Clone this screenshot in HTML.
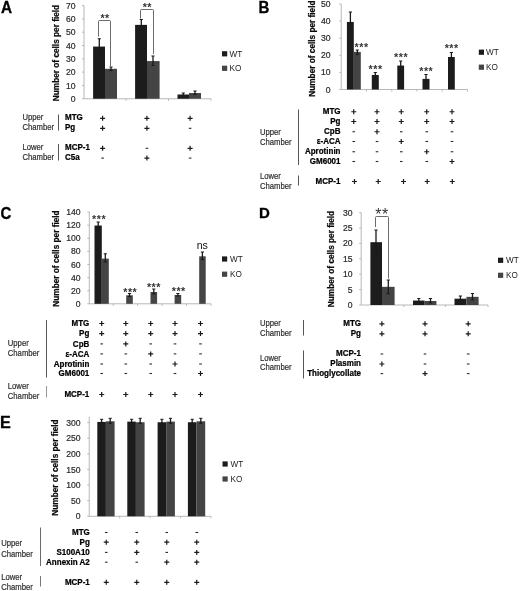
<!DOCTYPE html>
<html lang="en"><head><meta charset="utf-8"><title>Figure</title>
<style>
html,body{margin:0;padding:0;background:#fff;}
svg{display:block;font-family:"Liberation Sans", sans-serif;}
</style></head>
<body>
<svg width="520" height="591" viewBox="0 0 520 591">
<rect x="0" y="0" width="520" height="591" fill="#fff"/>
<text transform="translate(0.9,12.6) scale(0.92,1)" font-size="16.7" font-weight="bold" fill="#000" stroke="#000" stroke-width="0.3">A</text>
<line x1="84.00" y1="5.58" x2="84.00" y2="98.75" stroke="#b0b0b0" stroke-width="0.9"/>
<line x1="84.00" y1="98.75" x2="211.00" y2="98.75" stroke="#b0b0b0" stroke-width="0.9"/>
<line x1="82.00" y1="98.75" x2="84.00" y2="98.75" stroke="#b0b0b0" stroke-width="0.9"/>
<text x="75.5" y="101.846" font-size="8.6" text-anchor="end" fill="#2a2a2a" stroke="#2a2a2a" stroke-width="0.2">0</text>
<line x1="82.00" y1="85.44" x2="84.00" y2="85.44" stroke="#b0b0b0" stroke-width="0.9"/>
<text x="75.5" y="88.536" font-size="8.6" text-anchor="end" fill="#2a2a2a" stroke="#2a2a2a" stroke-width="0.2">10</text>
<line x1="82.00" y1="72.13" x2="84.00" y2="72.13" stroke="#b0b0b0" stroke-width="0.9"/>
<text x="75.5" y="75.226" font-size="8.6" text-anchor="end" fill="#2a2a2a" stroke="#2a2a2a" stroke-width="0.2">20</text>
<line x1="82.00" y1="58.82" x2="84.00" y2="58.82" stroke="#b0b0b0" stroke-width="0.9"/>
<text x="75.5" y="61.916" font-size="8.6" text-anchor="end" fill="#2a2a2a" stroke="#2a2a2a" stroke-width="0.2">30</text>
<line x1="82.00" y1="45.51" x2="84.00" y2="45.51" stroke="#b0b0b0" stroke-width="0.9"/>
<text x="75.5" y="48.606" font-size="8.6" text-anchor="end" fill="#2a2a2a" stroke="#2a2a2a" stroke-width="0.2">40</text>
<line x1="82.00" y1="32.20" x2="84.00" y2="32.20" stroke="#b0b0b0" stroke-width="0.9"/>
<text x="75.5" y="35.296" font-size="8.6" text-anchor="end" fill="#2a2a2a" stroke="#2a2a2a" stroke-width="0.2">50</text>
<line x1="82.00" y1="18.89" x2="84.00" y2="18.89" stroke="#b0b0b0" stroke-width="0.9"/>
<text x="75.5" y="21.986" font-size="8.6" text-anchor="end" fill="#2a2a2a" stroke="#2a2a2a" stroke-width="0.2">60</text>
<line x1="82.00" y1="5.58" x2="84.00" y2="5.58" stroke="#b0b0b0" stroke-width="0.9"/>
<text x="75.5" y="8.675999999999998" font-size="8.6" text-anchor="end" fill="#2a2a2a" stroke="#2a2a2a" stroke-width="0.2">70</text>
<line x1="126.00" y1="98.75" x2="126.00" y2="100.75" stroke="#b0b0b0" stroke-width="0.9"/>
<line x1="168.50" y1="98.75" x2="168.50" y2="100.75" stroke="#b0b0b0" stroke-width="0.9"/>
<line x1="211.00" y1="98.75" x2="211.00" y2="100.75" stroke="#b0b0b0" stroke-width="0.9"/>
<text transform="translate(59.2,53) rotate(-90)" font-size="8.25" text-anchor="middle" font-weight="bold" fill="#0a0a0a" stroke="#0a0a0a" stroke-width="0.22">Number of cells per field</text>
<rect x="93.10" y="46.57" width="11.90" height="52.18" fill="#1c1c1c"/>
<rect x="105.00" y="68.80" width="12.00" height="29.95" fill="#444444"/>
<rect x="135.10" y="24.88" width="11.90" height="73.87" fill="#1c1c1c"/>
<rect x="147.00" y="61.08" width="12.60" height="37.67" fill="#444444"/>
<rect x="177.50" y="94.49" width="11.50" height="4.26" fill="#1c1c1c"/>
<rect x="189.00" y="93.03" width="12.00" height="5.72" fill="#444444"/>
<line x1="99.30" y1="38.75" x2="99.30" y2="53.75" stroke="#1a1a1a" stroke-width="1.3"/>
<line x1="97.70" y1="38.75" x2="100.90" y2="38.75" stroke="#1a1a1a" stroke-width="1.0"/>
<line x1="97.70" y1="53.75" x2="100.90" y2="53.75" stroke="#1a1a1a" stroke-width="1.0"/>
<line x1="111.00" y1="67.00" x2="111.00" y2="70.50" stroke="#1a1a1a" stroke-width="1.3"/>
<line x1="109.40" y1="67.00" x2="112.60" y2="67.00" stroke="#1a1a1a" stroke-width="1.0"/>
<line x1="109.40" y1="70.50" x2="112.60" y2="70.50" stroke="#1a1a1a" stroke-width="1.0"/>
<line x1="141.30" y1="19.50" x2="141.30" y2="29.50" stroke="#1a1a1a" stroke-width="1.3"/>
<line x1="139.70" y1="19.50" x2="142.90" y2="19.50" stroke="#1a1a1a" stroke-width="1.0"/>
<line x1="139.70" y1="29.50" x2="142.90" y2="29.50" stroke="#1a1a1a" stroke-width="1.0"/>
<line x1="153.00" y1="56.00" x2="153.00" y2="65.50" stroke="#1a1a1a" stroke-width="1.3"/>
<line x1="151.40" y1="56.00" x2="154.60" y2="56.00" stroke="#1a1a1a" stroke-width="1.0"/>
<line x1="151.40" y1="65.50" x2="154.60" y2="65.50" stroke="#1a1a1a" stroke-width="1.0"/>
<line x1="183.30" y1="93.00" x2="183.30" y2="95.50" stroke="#1a1a1a" stroke-width="1.3"/>
<line x1="181.70" y1="93.00" x2="184.90" y2="93.00" stroke="#1a1a1a" stroke-width="1.0"/>
<line x1="181.70" y1="95.50" x2="184.90" y2="95.50" stroke="#1a1a1a" stroke-width="1.0"/>
<line x1="195.00" y1="91.00" x2="195.00" y2="94.50" stroke="#1a1a1a" stroke-width="1.3"/>
<line x1="193.40" y1="91.00" x2="196.60" y2="91.00" stroke="#1a1a1a" stroke-width="1.0"/>
<line x1="193.40" y1="94.50" x2="196.60" y2="94.50" stroke="#1a1a1a" stroke-width="1.0"/>
<path d="M98.5,36.5 L98.5,21.5 Q98.5,20.5 99.5,20.5 L109.5,20.5 Q110.5,20.5 110.5,21.5 L110.5,66" fill="none" stroke="#3a3a3a" stroke-width="0.75"/>
<text x="105.1" y="21.5" font-size="10.7" text-anchor="middle" font-weight="bold" fill="#333" letter-spacing="0.5">**</text>
<path d="M140.5,18.5 L140.5,10.5 Q140.5,9.5 141.5,9.5 L152.5,9.5 Q153.5,9.5 153.5,10.5 L153.5,54" fill="none" stroke="#3a3a3a" stroke-width="0.75"/>
<text x="147.3" y="11" font-size="10.7" text-anchor="middle" font-weight="bold" fill="#333" letter-spacing="0.5">**</text>
<rect x="222.00" y="51.20" width="5.20" height="5.20" fill="#1c1c1c"/>
<text x="229.5" y="56.699999999999996" font-size="8.2" text-anchor="start" fill="#222">WT</text>
<rect x="222.00" y="65.70" width="5.20" height="5.20" fill="#444444"/>
<text x="229.5" y="71.2" font-size="8.2" text-anchor="start" fill="#222">KO</text>
<text transform="translate(22.5,120.2) scale(0.905,1)" font-size="8.5" text-anchor="start" fill="#2e2e2e" stroke="#2e2e2e" stroke-width="0.2">Upper</text>
<text transform="translate(22.5,130.2) scale(0.905,1)" font-size="8.5" text-anchor="start" fill="#2e2e2e" stroke="#2e2e2e" stroke-width="0.2">Chamber</text>
<line x1="58.50" y1="114.50" x2="58.50" y2="130.50" stroke="#555" stroke-width="1"/>
<text transform="translate(65,120.2) scale(0.88,1)" font-size="9.1" text-anchor="start" font-weight="bold" fill="#000" stroke="#000" stroke-width="0.25">MTG</text>
<text transform="translate(65,130.2) scale(0.88,1)" font-size="9.1" text-anchor="start" font-weight="bold" fill="#000" stroke="#000" stroke-width="0.25">Pg</text>
<text transform="translate(22.5,149.7) scale(0.905,1)" font-size="8.5" text-anchor="start" fill="#2e2e2e" stroke="#2e2e2e" stroke-width="0.2">Lower</text>
<text transform="translate(22.5,159.7) scale(0.905,1)" font-size="8.5" text-anchor="start" fill="#2e2e2e" stroke="#2e2e2e" stroke-width="0.2">Chamber</text>
<line x1="58.50" y1="144.00" x2="58.50" y2="160.50" stroke="#555" stroke-width="1"/>
<text transform="translate(65,149.7) scale(0.88,1)" font-size="9.1" text-anchor="start" font-weight="bold" fill="#000" stroke="#000" stroke-width="0.25">MCP-1</text>
<text transform="translate(65,159.7) scale(0.88,1)" font-size="9.1" text-anchor="start" font-weight="bold" fill="#000" stroke="#000" stroke-width="0.25">C5a</text>
<path d="M100.10,118.30h5M102.60,115.80v5" stroke="#1a1a1a" stroke-width="1.2" fill="none"/>
<path d="M144.40,118.30h5M146.90,115.80v5" stroke="#1a1a1a" stroke-width="1.2" fill="none"/>
<path d="M187.60,118.30h5M190.10,115.80v5" stroke="#1a1a1a" stroke-width="1.2" fill="none"/>
<path d="M100.10,128.30h5M102.60,125.80v5" stroke="#1a1a1a" stroke-width="1.2" fill="none"/>
<path d="M144.40,128.30h5M146.90,125.80v5" stroke="#1a1a1a" stroke-width="1.2" fill="none"/>
<path d="M188.80,128.30h2.6" stroke="#2a2a2a" stroke-width="1.1" fill="none"/>
<path d="M100.10,148.30h5M102.60,145.80v5" stroke="#1a1a1a" stroke-width="1.2" fill="none"/>
<path d="M145.60,148.30h2.6" stroke="#2a2a2a" stroke-width="1.1" fill="none"/>
<path d="M187.60,148.30h5M190.10,145.80v5" stroke="#1a1a1a" stroke-width="1.2" fill="none"/>
<path d="M101.30,158.10h2.6" stroke="#2a2a2a" stroke-width="1.1" fill="none"/>
<path d="M144.40,158.10h5M146.90,155.60v5" stroke="#1a1a1a" stroke-width="1.2" fill="none"/>
<path d="M188.80,158.10h2.6" stroke="#2a2a2a" stroke-width="1.1" fill="none"/>
<text transform="translate(258.4,13.1) scale(0.945,1)" font-size="15.9" font-weight="bold" fill="#000" stroke="#000" stroke-width="0.3">B</text>
<line x1="341.25" y1="4.00" x2="341.25" y2="89.50" stroke="#b0b0b0" stroke-width="0.9"/>
<line x1="341.25" y1="89.50" x2="467.50" y2="89.50" stroke="#b0b0b0" stroke-width="0.9"/>
<line x1="339.25" y1="89.50" x2="341.25" y2="89.50" stroke="#b0b0b0" stroke-width="0.9"/>
<text x="330.5" y="92.596" font-size="8.6" text-anchor="end" fill="#2a2a2a" stroke="#2a2a2a" stroke-width="0.2">0</text>
<line x1="339.25" y1="72.40" x2="341.25" y2="72.40" stroke="#b0b0b0" stroke-width="0.9"/>
<text x="330.5" y="75.49600000000001" font-size="8.6" text-anchor="end" fill="#2a2a2a" stroke="#2a2a2a" stroke-width="0.2">10</text>
<line x1="339.25" y1="55.30" x2="341.25" y2="55.30" stroke="#b0b0b0" stroke-width="0.9"/>
<text x="330.5" y="58.395999999999994" font-size="8.6" text-anchor="end" fill="#2a2a2a" stroke="#2a2a2a" stroke-width="0.2">20</text>
<line x1="339.25" y1="38.20" x2="341.25" y2="38.20" stroke="#b0b0b0" stroke-width="0.9"/>
<text x="330.5" y="41.296" font-size="8.6" text-anchor="end" fill="#2a2a2a" stroke="#2a2a2a" stroke-width="0.2">30</text>
<line x1="339.25" y1="21.10" x2="341.25" y2="21.10" stroke="#b0b0b0" stroke-width="0.9"/>
<text x="330.5" y="24.195999999999994" font-size="8.6" text-anchor="end" fill="#2a2a2a" stroke="#2a2a2a" stroke-width="0.2">40</text>
<line x1="339.25" y1="4.00" x2="341.25" y2="4.00" stroke="#b0b0b0" stroke-width="0.9"/>
<text x="330.5" y="7.096" font-size="8.6" text-anchor="end" fill="#2a2a2a" stroke="#2a2a2a" stroke-width="0.2">50</text>
<line x1="366.50" y1="89.50" x2="366.50" y2="91.50" stroke="#b0b0b0" stroke-width="0.9"/>
<line x1="391.75" y1="89.50" x2="391.75" y2="91.50" stroke="#b0b0b0" stroke-width="0.9"/>
<line x1="417.00" y1="89.50" x2="417.00" y2="91.50" stroke="#b0b0b0" stroke-width="0.9"/>
<line x1="442.25" y1="89.50" x2="442.25" y2="91.50" stroke="#b0b0b0" stroke-width="0.9"/>
<line x1="467.50" y1="89.50" x2="467.50" y2="91.50" stroke="#b0b0b0" stroke-width="0.9"/>
<text transform="translate(315,48.6) rotate(-90)" font-size="8.25" text-anchor="middle" font-weight="bold" fill="#0a0a0a" stroke="#0a0a0a" stroke-width="0.22">Number of cells per field</text>
<rect x="346.90" y="21.95" width="6.90" height="67.55" fill="#1c1c1c"/>
<rect x="353.80" y="51.88" width="7.00" height="37.62" fill="#444444"/>
<rect x="371.80" y="74.97" width="7.00" height="14.54" fill="#1c1c1c"/>
<rect x="397.30" y="65.56" width="6.80" height="23.94" fill="#1c1c1c"/>
<rect x="422.50" y="78.90" width="7.00" height="10.60" fill="#1c1c1c"/>
<rect x="448.00" y="57.01" width="6.80" height="32.49" fill="#1c1c1c"/>
<line x1="350.40" y1="12.00" x2="350.40" y2="31.00" stroke="#1a1a1a" stroke-width="1.3"/>
<line x1="348.80" y1="12.00" x2="352.00" y2="12.00" stroke="#1a1a1a" stroke-width="1.0"/>
<line x1="348.80" y1="31.00" x2="352.00" y2="31.00" stroke="#1a1a1a" stroke-width="1.0"/>
<line x1="357.30" y1="50.00" x2="357.30" y2="54.50" stroke="#1a1a1a" stroke-width="1.3"/>
<line x1="355.70" y1="50.00" x2="358.90" y2="50.00" stroke="#1a1a1a" stroke-width="1.0"/>
<line x1="355.70" y1="54.50" x2="358.90" y2="54.50" stroke="#1a1a1a" stroke-width="1.0"/>
<line x1="375.30" y1="72.50" x2="375.30" y2="77.50" stroke="#1a1a1a" stroke-width="1.3"/>
<line x1="373.70" y1="72.50" x2="376.90" y2="72.50" stroke="#1a1a1a" stroke-width="1.0"/>
<line x1="373.70" y1="77.50" x2="376.90" y2="77.50" stroke="#1a1a1a" stroke-width="1.0"/>
<line x1="400.70" y1="61.00" x2="400.70" y2="69.50" stroke="#1a1a1a" stroke-width="1.3"/>
<line x1="399.10" y1="61.00" x2="402.30" y2="61.00" stroke="#1a1a1a" stroke-width="1.0"/>
<line x1="399.10" y1="69.50" x2="402.30" y2="69.50" stroke="#1a1a1a" stroke-width="1.0"/>
<line x1="426.00" y1="74.50" x2="426.00" y2="82.00" stroke="#1a1a1a" stroke-width="1.3"/>
<line x1="424.40" y1="74.50" x2="427.60" y2="74.50" stroke="#1a1a1a" stroke-width="1.0"/>
<line x1="424.40" y1="82.00" x2="427.60" y2="82.00" stroke="#1a1a1a" stroke-width="1.0"/>
<line x1="451.40" y1="52.50" x2="451.40" y2="60.50" stroke="#1a1a1a" stroke-width="1.3"/>
<line x1="449.80" y1="52.50" x2="453.00" y2="52.50" stroke="#1a1a1a" stroke-width="1.0"/>
<line x1="449.80" y1="60.50" x2="453.00" y2="60.50" stroke="#1a1a1a" stroke-width="1.0"/>
<text x="361.6" y="50.5" font-size="10.7" text-anchor="middle" font-weight="bold" fill="#333" letter-spacing="0.5">***</text>
<text x="375.6" y="73" font-size="10.7" text-anchor="middle" font-weight="bold" fill="#333" letter-spacing="0.5">***</text>
<text x="401.1" y="61" font-size="10.7" text-anchor="middle" font-weight="bold" fill="#333" letter-spacing="0.5">***</text>
<text x="426.3" y="75" font-size="10.7" text-anchor="middle" font-weight="bold" fill="#333" letter-spacing="0.5">***</text>
<text x="451.7" y="52" font-size="10.7" text-anchor="middle" font-weight="bold" fill="#333" letter-spacing="0.5">***</text>
<rect x="478.80" y="49.60" width="5.20" height="5.20" fill="#1c1c1c"/>
<text x="486" y="55.1" font-size="8.2" text-anchor="start" fill="#222">WT</text>
<rect x="478.80" y="64.60" width="5.20" height="5.20" fill="#444444"/>
<text x="486" y="70.10000000000001" font-size="8.2" text-anchor="start" fill="#222">KO</text>
<text transform="translate(340.5,114.35) scale(0.88,1)" font-size="9.1" text-anchor="end" font-weight="bold" fill="#000" stroke="#000" stroke-width="0.25">MTG</text>
<path d="M351.25,111.75h5M353.75,109.25v5" stroke="#1a1a1a" stroke-width="1.2" fill="none"/>
<path d="M374.50,111.75h5M377.00,109.25v5" stroke="#1a1a1a" stroke-width="1.2" fill="none"/>
<path d="M398.75,111.75h5M401.25,109.25v5" stroke="#1a1a1a" stroke-width="1.2" fill="none"/>
<path d="M424.25,111.75h5M426.75,109.25v5" stroke="#1a1a1a" stroke-width="1.2" fill="none"/>
<path d="M449.50,111.75h5M452.00,109.25v5" stroke="#1a1a1a" stroke-width="1.2" fill="none"/>
<text transform="translate(340.5,124.1) scale(0.88,1)" font-size="9.1" text-anchor="end" font-weight="bold" fill="#000" stroke="#000" stroke-width="0.25">Pg</text>
<path d="M351.25,121.50h5M353.75,119.00v5" stroke="#1a1a1a" stroke-width="1.2" fill="none"/>
<path d="M374.50,121.50h5M377.00,119.00v5" stroke="#1a1a1a" stroke-width="1.2" fill="none"/>
<path d="M398.75,121.50h5M401.25,119.00v5" stroke="#1a1a1a" stroke-width="1.2" fill="none"/>
<path d="M424.25,121.50h5M426.75,119.00v5" stroke="#1a1a1a" stroke-width="1.2" fill="none"/>
<path d="M449.50,121.50h5M452.00,119.00v5" stroke="#1a1a1a" stroke-width="1.2" fill="none"/>
<text transform="translate(340.5,134.35) scale(0.88,1)" font-size="9.1" text-anchor="end" font-weight="bold" fill="#000" stroke="#000" stroke-width="0.25">CpB</text>
<path d="M352.45,131.75h2.6" stroke="#2a2a2a" stroke-width="1.1" fill="none"/>
<path d="M374.50,131.75h5M377.00,129.25v5" stroke="#1a1a1a" stroke-width="1.2" fill="none"/>
<path d="M399.95,131.75h2.6" stroke="#2a2a2a" stroke-width="1.1" fill="none"/>
<path d="M425.45,131.75h2.6" stroke="#2a2a2a" stroke-width="1.1" fill="none"/>
<path d="M450.70,131.75h2.6" stroke="#2a2a2a" stroke-width="1.1" fill="none"/>
<text transform="translate(340.5,144.1) scale(0.88,1)" font-size="9.1" text-anchor="end" font-weight="bold" fill="#000" stroke="#000" stroke-width="0.25">ε-ACA</text>
<path d="M352.45,141.50h2.6" stroke="#2a2a2a" stroke-width="1.1" fill="none"/>
<path d="M375.70,141.50h2.6" stroke="#2a2a2a" stroke-width="1.1" fill="none"/>
<path d="M398.75,141.50h5M401.25,139.00v5" stroke="#1a1a1a" stroke-width="1.2" fill="none"/>
<path d="M425.45,141.50h2.6" stroke="#2a2a2a" stroke-width="1.1" fill="none"/>
<path d="M450.70,141.50h2.6" stroke="#2a2a2a" stroke-width="1.1" fill="none"/>
<text transform="translate(340.5,154.35) scale(0.88,1)" font-size="9.1" text-anchor="end" font-weight="bold" fill="#000" stroke="#000" stroke-width="0.25">Aprotinin</text>
<path d="M352.45,151.75h2.6" stroke="#2a2a2a" stroke-width="1.1" fill="none"/>
<path d="M375.70,151.75h2.6" stroke="#2a2a2a" stroke-width="1.1" fill="none"/>
<path d="M399.95,151.75h2.6" stroke="#2a2a2a" stroke-width="1.1" fill="none"/>
<path d="M424.25,151.75h5M426.75,149.25v5" stroke="#1a1a1a" stroke-width="1.2" fill="none"/>
<path d="M450.70,151.75h2.6" stroke="#2a2a2a" stroke-width="1.1" fill="none"/>
<text transform="translate(340.5,164.1) scale(0.88,1)" font-size="9.1" text-anchor="end" font-weight="bold" fill="#000" stroke="#000" stroke-width="0.25">GM6001</text>
<path d="M352.45,161.50h2.6" stroke="#2a2a2a" stroke-width="1.1" fill="none"/>
<path d="M375.70,161.50h2.6" stroke="#2a2a2a" stroke-width="1.1" fill="none"/>
<path d="M399.95,161.50h2.6" stroke="#2a2a2a" stroke-width="1.1" fill="none"/>
<path d="M425.45,161.50h2.6" stroke="#2a2a2a" stroke-width="1.1" fill="none"/>
<path d="M449.50,161.50h5M452.00,159.00v5" stroke="#1a1a1a" stroke-width="1.2" fill="none"/>
<line x1="298.50" y1="109.50" x2="298.50" y2="165.00" stroke="#555" stroke-width="1"/>
<text transform="translate(260,135.2) scale(0.905,1)" font-size="8.5" text-anchor="start" fill="#2e2e2e" stroke="#2e2e2e" stroke-width="0.2">Upper</text>
<text transform="translate(260,145.2) scale(0.905,1)" font-size="8.5" text-anchor="start" fill="#2e2e2e" stroke="#2e2e2e" stroke-width="0.2">Chamber</text>
<text transform="translate(260,178.9) scale(0.905,1)" font-size="8.5" text-anchor="start" fill="#2e2e2e" stroke="#2e2e2e" stroke-width="0.2">Lower</text>
<text transform="translate(260,188.9) scale(0.905,1)" font-size="8.5" text-anchor="start" fill="#2e2e2e" stroke="#2e2e2e" stroke-width="0.2">Chamber</text>
<line x1="298.50" y1="175.50" x2="298.50" y2="185.50" stroke="#555" stroke-width="1"/>
<text transform="translate(340.5,184) scale(0.88,1)" font-size="9.1" text-anchor="end" font-weight="bold" fill="#000" stroke="#000" stroke-width="0.25">MCP-1</text>
<path d="M352.00,181.50h5M354.50,179.00v5" stroke="#1a1a1a" stroke-width="1.2" fill="none"/>
<path d="M375.70,181.50h5M378.20,179.00v5" stroke="#1a1a1a" stroke-width="1.2" fill="none"/>
<path d="M401.00,181.50h5M403.50,179.00v5" stroke="#1a1a1a" stroke-width="1.2" fill="none"/>
<path d="M424.70,181.50h5M427.20,179.00v5" stroke="#1a1a1a" stroke-width="1.2" fill="none"/>
<path d="M449.80,181.50h5M452.30,179.00v5" stroke="#1a1a1a" stroke-width="1.2" fill="none"/>
<text transform="translate(0.5,219.0) scale(0.9,1)" font-size="16.7" font-weight="bold" fill="#000" stroke="#000" stroke-width="0.3">C</text>
<line x1="89.30" y1="212.10" x2="89.30" y2="303.80" stroke="#b0b0b0" stroke-width="0.9"/>
<line x1="89.30" y1="303.80" x2="211.00" y2="303.80" stroke="#b0b0b0" stroke-width="0.9"/>
<line x1="87.30" y1="303.80" x2="89.30" y2="303.80" stroke="#b0b0b0" stroke-width="0.9"/>
<text x="80.5" y="306.896" font-size="8.6" text-anchor="end" fill="#2a2a2a" stroke="#2a2a2a" stroke-width="0.2">0</text>
<line x1="87.30" y1="290.70" x2="89.30" y2="290.70" stroke="#b0b0b0" stroke-width="0.9"/>
<text x="80.5" y="293.796" font-size="8.6" text-anchor="end" fill="#2a2a2a" stroke="#2a2a2a" stroke-width="0.2">20</text>
<line x1="87.30" y1="277.60" x2="89.30" y2="277.60" stroke="#b0b0b0" stroke-width="0.9"/>
<text x="80.5" y="280.696" font-size="8.6" text-anchor="end" fill="#2a2a2a" stroke="#2a2a2a" stroke-width="0.2">40</text>
<line x1="87.30" y1="264.50" x2="89.30" y2="264.50" stroke="#b0b0b0" stroke-width="0.9"/>
<text x="80.5" y="267.596" font-size="8.6" text-anchor="end" fill="#2a2a2a" stroke="#2a2a2a" stroke-width="0.2">60</text>
<line x1="87.30" y1="251.40" x2="89.30" y2="251.40" stroke="#b0b0b0" stroke-width="0.9"/>
<text x="80.5" y="254.496" font-size="8.6" text-anchor="end" fill="#2a2a2a" stroke="#2a2a2a" stroke-width="0.2">80</text>
<line x1="87.30" y1="238.30" x2="89.30" y2="238.30" stroke="#b0b0b0" stroke-width="0.9"/>
<text x="80.5" y="241.39600000000002" font-size="8.6" text-anchor="end" fill="#2a2a2a" stroke="#2a2a2a" stroke-width="0.2">100</text>
<line x1="87.30" y1="225.20" x2="89.30" y2="225.20" stroke="#b0b0b0" stroke-width="0.9"/>
<text x="80.5" y="228.296" font-size="8.6" text-anchor="end" fill="#2a2a2a" stroke="#2a2a2a" stroke-width="0.2">120</text>
<line x1="87.30" y1="212.10" x2="89.30" y2="212.10" stroke="#b0b0b0" stroke-width="0.9"/>
<text x="80.5" y="215.19600000000003" font-size="8.6" text-anchor="end" fill="#2a2a2a" stroke="#2a2a2a" stroke-width="0.2">140</text>
<line x1="113.20" y1="303.80" x2="113.20" y2="305.80" stroke="#b0b0b0" stroke-width="0.9"/>
<line x1="137.60" y1="303.80" x2="137.60" y2="305.80" stroke="#b0b0b0" stroke-width="0.9"/>
<line x1="162.10" y1="303.80" x2="162.10" y2="305.80" stroke="#b0b0b0" stroke-width="0.9"/>
<line x1="186.50" y1="303.80" x2="186.50" y2="305.80" stroke="#b0b0b0" stroke-width="0.9"/>
<line x1="211.00" y1="303.80" x2="211.00" y2="305.80" stroke="#b0b0b0" stroke-width="0.9"/>
<text transform="translate(59.2,258.5) rotate(-90)" font-size="8.25" text-anchor="middle" font-weight="bold" fill="#0a0a0a" stroke="#0a0a0a" stroke-width="0.22">Number of cells per field</text>
<rect x="94.50" y="225.53" width="7.30" height="78.27" fill="#1c1c1c"/>
<rect x="101.80" y="258.61" width="7.00" height="45.20" fill="#444444"/>
<rect x="126.20" y="295.29" width="6.60" height="8.52" fill="#444444"/>
<rect x="150.50" y="292.01" width="6.60" height="11.79" fill="#444444"/>
<rect x="174.60" y="294.96" width="6.60" height="8.84" fill="#444444"/>
<rect x="199.20" y="256.31" width="6.50" height="47.49" fill="#444444"/>
<line x1="98.20" y1="222.00" x2="98.20" y2="227.50" stroke="#1a1a1a" stroke-width="1.3"/>
<line x1="96.60" y1="222.00" x2="99.80" y2="222.00" stroke="#1a1a1a" stroke-width="1.0"/>
<line x1="96.60" y1="227.50" x2="99.80" y2="227.50" stroke="#1a1a1a" stroke-width="1.0"/>
<line x1="105.30" y1="253.75" x2="105.30" y2="262.00" stroke="#1a1a1a" stroke-width="1.3"/>
<line x1="103.70" y1="253.75" x2="106.90" y2="253.75" stroke="#1a1a1a" stroke-width="1.0"/>
<line x1="103.70" y1="262.00" x2="106.90" y2="262.00" stroke="#1a1a1a" stroke-width="1.0"/>
<line x1="129.50" y1="293.50" x2="129.50" y2="296.50" stroke="#1a1a1a" stroke-width="1.3"/>
<line x1="127.90" y1="293.50" x2="131.10" y2="293.50" stroke="#1a1a1a" stroke-width="1.0"/>
<line x1="127.90" y1="296.50" x2="131.10" y2="296.50" stroke="#1a1a1a" stroke-width="1.0"/>
<line x1="153.80" y1="289.00" x2="153.80" y2="294.00" stroke="#1a1a1a" stroke-width="1.3"/>
<line x1="152.20" y1="289.00" x2="155.40" y2="289.00" stroke="#1a1a1a" stroke-width="1.0"/>
<line x1="152.20" y1="294.00" x2="155.40" y2="294.00" stroke="#1a1a1a" stroke-width="1.0"/>
<line x1="177.90" y1="293.50" x2="177.90" y2="296.00" stroke="#1a1a1a" stroke-width="1.3"/>
<line x1="176.30" y1="293.50" x2="179.50" y2="293.50" stroke="#1a1a1a" stroke-width="1.0"/>
<line x1="176.30" y1="296.00" x2="179.50" y2="296.00" stroke="#1a1a1a" stroke-width="1.0"/>
<line x1="202.40" y1="252.00" x2="202.40" y2="259.50" stroke="#1a1a1a" stroke-width="1.3"/>
<line x1="200.80" y1="252.00" x2="204.00" y2="252.00" stroke="#1a1a1a" stroke-width="1.0"/>
<line x1="200.80" y1="259.50" x2="204.00" y2="259.50" stroke="#1a1a1a" stroke-width="1.0"/>
<text x="99.1" y="223.3" font-size="10.7" text-anchor="middle" font-weight="bold" fill="#333" letter-spacing="0.5">***</text>
<text x="130.3" y="295.5" font-size="10.7" text-anchor="middle" font-weight="bold" fill="#333" letter-spacing="0.5">***</text>
<text x="153.9" y="290.5" font-size="10.7" text-anchor="middle" font-weight="bold" fill="#333" letter-spacing="0.5">***</text>
<text x="178.8" y="295" font-size="10.7" text-anchor="middle" font-weight="bold" fill="#333" letter-spacing="0.5">***</text>
<text x="202.3" y="249" font-size="10.6" text-anchor="middle" fill="#111">ns</text>
<rect x="222.00" y="256.40" width="5.20" height="5.20" fill="#1c1c1c"/>
<text x="230" y="261.9" font-size="8.2" text-anchor="start" fill="#222">WT</text>
<rect x="222.00" y="271.60" width="5.20" height="5.20" fill="#444444"/>
<text x="230" y="277.09999999999997" font-size="8.2" text-anchor="start" fill="#222">KO</text>
<text transform="translate(89.3,326.1) scale(0.88,1)" font-size="9.1" text-anchor="end" font-weight="bold" fill="#000" stroke="#000" stroke-width="0.25">MTG</text>
<path d="M99.20,323.50h5M101.70,321.00v5" stroke="#1a1a1a" stroke-width="1.2" fill="none"/>
<path d="M123.30,323.50h5M125.80,321.00v5" stroke="#1a1a1a" stroke-width="1.2" fill="none"/>
<path d="M148.20,323.50h5M150.70,321.00v5" stroke="#1a1a1a" stroke-width="1.2" fill="none"/>
<path d="M172.50,323.50h5M175.00,321.00v5" stroke="#1a1a1a" stroke-width="1.2" fill="none"/>
<path d="M198.00,323.50h5M200.50,321.00v5" stroke="#1a1a1a" stroke-width="1.2" fill="none"/>
<text transform="translate(89.3,336.20000000000005) scale(0.88,1)" font-size="9.1" text-anchor="end" font-weight="bold" fill="#000" stroke="#000" stroke-width="0.25">Pg</text>
<path d="M99.20,333.60h5M101.70,331.10v5" stroke="#1a1a1a" stroke-width="1.2" fill="none"/>
<path d="M123.30,333.60h5M125.80,331.10v5" stroke="#1a1a1a" stroke-width="1.2" fill="none"/>
<path d="M148.20,333.60h5M150.70,331.10v5" stroke="#1a1a1a" stroke-width="1.2" fill="none"/>
<path d="M172.50,333.60h5M175.00,331.10v5" stroke="#1a1a1a" stroke-width="1.2" fill="none"/>
<path d="M198.00,333.60h5M200.50,331.10v5" stroke="#1a1a1a" stroke-width="1.2" fill="none"/>
<text transform="translate(89.3,346.5) scale(0.88,1)" font-size="9.1" text-anchor="end" font-weight="bold" fill="#000" stroke="#000" stroke-width="0.25">CpB</text>
<path d="M100.40,343.90h2.6" stroke="#2a2a2a" stroke-width="1.1" fill="none"/>
<path d="M123.30,343.90h5M125.80,341.40v5" stroke="#1a1a1a" stroke-width="1.2" fill="none"/>
<path d="M149.40,343.90h2.6" stroke="#2a2a2a" stroke-width="1.1" fill="none"/>
<path d="M173.70,343.90h2.6" stroke="#2a2a2a" stroke-width="1.1" fill="none"/>
<path d="M199.20,343.90h2.6" stroke="#2a2a2a" stroke-width="1.1" fill="none"/>
<text transform="translate(89.3,356.5) scale(0.88,1)" font-size="9.1" text-anchor="end" font-weight="bold" fill="#000" stroke="#000" stroke-width="0.25">ε-ACA</text>
<path d="M100.40,353.90h2.6" stroke="#2a2a2a" stroke-width="1.1" fill="none"/>
<path d="M124.50,353.90h2.6" stroke="#2a2a2a" stroke-width="1.1" fill="none"/>
<path d="M148.20,353.90h5M150.70,351.40v5" stroke="#1a1a1a" stroke-width="1.2" fill="none"/>
<path d="M173.70,353.90h2.6" stroke="#2a2a2a" stroke-width="1.1" fill="none"/>
<path d="M199.20,353.90h2.6" stroke="#2a2a2a" stroke-width="1.1" fill="none"/>
<text transform="translate(89.3,366.6) scale(0.88,1)" font-size="9.1" text-anchor="end" font-weight="bold" fill="#000" stroke="#000" stroke-width="0.25">Aprotinin</text>
<path d="M100.40,364.00h2.6" stroke="#2a2a2a" stroke-width="1.1" fill="none"/>
<path d="M124.50,364.00h2.6" stroke="#2a2a2a" stroke-width="1.1" fill="none"/>
<path d="M149.40,364.00h2.6" stroke="#2a2a2a" stroke-width="1.1" fill="none"/>
<path d="M172.50,364.00h5M175.00,361.50v5" stroke="#1a1a1a" stroke-width="1.2" fill="none"/>
<path d="M199.20,364.00h2.6" stroke="#2a2a2a" stroke-width="1.1" fill="none"/>
<text transform="translate(89.3,376.1) scale(0.88,1)" font-size="9.1" text-anchor="end" font-weight="bold" fill="#000" stroke="#000" stroke-width="0.25">GM6001</text>
<path d="M100.40,373.50h2.6" stroke="#2a2a2a" stroke-width="1.1" fill="none"/>
<path d="M124.50,373.50h2.6" stroke="#2a2a2a" stroke-width="1.1" fill="none"/>
<path d="M149.40,373.50h2.6" stroke="#2a2a2a" stroke-width="1.1" fill="none"/>
<path d="M173.70,373.50h2.6" stroke="#2a2a2a" stroke-width="1.1" fill="none"/>
<path d="M198.00,373.50h5M200.50,371.00v5" stroke="#1a1a1a" stroke-width="1.2" fill="none"/>
<line x1="46.50" y1="320.00" x2="46.50" y2="377.50" stroke="#555" stroke-width="1"/>
<text transform="translate(7.8,346.4) scale(0.905,1)" font-size="8.5" text-anchor="start" fill="#2e2e2e" stroke="#2e2e2e" stroke-width="0.2">Upper</text>
<text transform="translate(7.8,356.4) scale(0.905,1)" font-size="8.5" text-anchor="start" fill="#2e2e2e" stroke="#2e2e2e" stroke-width="0.2">Chamber</text>
<text transform="translate(7.8,389.4) scale(0.905,1)" font-size="8.5" text-anchor="start" fill="#2e2e2e" stroke="#2e2e2e" stroke-width="0.2">Lower</text>
<text transform="translate(7.8,399.4) scale(0.905,1)" font-size="8.5" text-anchor="start" fill="#2e2e2e" stroke="#2e2e2e" stroke-width="0.2">Chamber</text>
<line x1="46.50" y1="386.00" x2="46.50" y2="397.50" stroke="#999" stroke-width="1"/>
<text transform="translate(89.3,397) scale(0.88,1)" font-size="9.1" text-anchor="end" font-weight="bold" fill="#000" stroke="#000" stroke-width="0.25">MCP-1</text>
<path d="M99.20,394.50h5M101.70,392.00v5" stroke="#1a1a1a" stroke-width="1.2" fill="none"/>
<path d="M123.30,394.50h5M125.80,392.00v5" stroke="#1a1a1a" stroke-width="1.2" fill="none"/>
<path d="M148.20,394.50h5M150.70,392.00v5" stroke="#1a1a1a" stroke-width="1.2" fill="none"/>
<path d="M172.50,394.50h5M175.00,392.00v5" stroke="#1a1a1a" stroke-width="1.2" fill="none"/>
<path d="M198.00,394.50h5M200.50,392.00v5" stroke="#1a1a1a" stroke-width="1.2" fill="none"/>
<text transform="translate(259.1,217.7) scale(0.975,1)" font-size="15.4" font-weight="bold" fill="#000" stroke="#000" stroke-width="0.3">D</text>
<line x1="361.20" y1="212.60" x2="361.20" y2="305.00" stroke="#b0b0b0" stroke-width="0.9"/>
<line x1="361.20" y1="305.00" x2="488.00" y2="305.00" stroke="#b0b0b0" stroke-width="0.9"/>
<line x1="359.20" y1="305.00" x2="361.20" y2="305.00" stroke="#b0b0b0" stroke-width="0.9"/>
<text x="352.5" y="308.096" font-size="8.6" text-anchor="end" fill="#2a2a2a" stroke="#2a2a2a" stroke-width="0.2">0</text>
<line x1="359.20" y1="289.60" x2="361.20" y2="289.60" stroke="#b0b0b0" stroke-width="0.9"/>
<text x="352.5" y="292.696" font-size="8.6" text-anchor="end" fill="#2a2a2a" stroke="#2a2a2a" stroke-width="0.2">5</text>
<line x1="359.20" y1="274.20" x2="361.20" y2="274.20" stroke="#b0b0b0" stroke-width="0.9"/>
<text x="352.5" y="277.296" font-size="8.6" text-anchor="end" fill="#2a2a2a" stroke="#2a2a2a" stroke-width="0.2">10</text>
<line x1="359.20" y1="258.80" x2="361.20" y2="258.80" stroke="#b0b0b0" stroke-width="0.9"/>
<text x="352.5" y="261.896" font-size="8.6" text-anchor="end" fill="#2a2a2a" stroke="#2a2a2a" stroke-width="0.2">15</text>
<line x1="359.20" y1="243.40" x2="361.20" y2="243.40" stroke="#b0b0b0" stroke-width="0.9"/>
<text x="352.5" y="246.496" font-size="8.6" text-anchor="end" fill="#2a2a2a" stroke="#2a2a2a" stroke-width="0.2">20</text>
<line x1="359.20" y1="228.00" x2="361.20" y2="228.00" stroke="#b0b0b0" stroke-width="0.9"/>
<text x="352.5" y="231.096" font-size="8.6" text-anchor="end" fill="#2a2a2a" stroke="#2a2a2a" stroke-width="0.2">25</text>
<line x1="359.20" y1="212.60" x2="361.20" y2="212.60" stroke="#b0b0b0" stroke-width="0.9"/>
<text x="352.5" y="215.696" font-size="8.6" text-anchor="end" fill="#2a2a2a" stroke="#2a2a2a" stroke-width="0.2">30</text>
<line x1="403.80" y1="305.00" x2="403.80" y2="307.00" stroke="#b0b0b0" stroke-width="0.9"/>
<line x1="445.40" y1="305.00" x2="445.40" y2="307.00" stroke="#b0b0b0" stroke-width="0.9"/>
<line x1="488.00" y1="305.00" x2="488.00" y2="307.00" stroke="#b0b0b0" stroke-width="0.9"/>
<text transform="translate(333.5,259) rotate(-90)" font-size="8.25" text-anchor="middle" font-weight="bold" fill="#0a0a0a" stroke="#0a0a0a" stroke-width="0.22">Number of cells per field</text>
<rect x="370.40" y="242.17" width="11.60" height="62.83" fill="#1c1c1c"/>
<rect x="382.00" y="286.83" width="12.60" height="18.17" fill="#444444"/>
<rect x="413.00" y="300.53" width="11.60" height="4.47" fill="#1c1c1c"/>
<rect x="424.60" y="301.00" width="11.80" height="4.00" fill="#444444"/>
<rect x="454.50" y="298.69" width="11.90" height="6.31" fill="#1c1c1c"/>
<rect x="466.40" y="296.84" width="12.20" height="8.16" fill="#444444"/>
<line x1="376.00" y1="230.00" x2="376.00" y2="254.00" stroke="#1a1a1a" stroke-width="1.3"/>
<line x1="374.40" y1="230.00" x2="377.60" y2="230.00" stroke="#1a1a1a" stroke-width="1.0"/>
<line x1="374.40" y1="254.00" x2="377.60" y2="254.00" stroke="#1a1a1a" stroke-width="1.0"/>
<line x1="388.30" y1="280.00" x2="388.30" y2="293.70" stroke="#1a1a1a" stroke-width="1.3"/>
<line x1="386.70" y1="280.00" x2="389.90" y2="280.00" stroke="#1a1a1a" stroke-width="1.0"/>
<line x1="386.70" y1="293.70" x2="389.90" y2="293.70" stroke="#1a1a1a" stroke-width="1.0"/>
<line x1="418.80" y1="298.50" x2="418.80" y2="302.00" stroke="#1a1a1a" stroke-width="1.3"/>
<line x1="417.20" y1="298.50" x2="420.40" y2="298.50" stroke="#1a1a1a" stroke-width="1.0"/>
<line x1="417.20" y1="302.00" x2="420.40" y2="302.00" stroke="#1a1a1a" stroke-width="1.0"/>
<line x1="430.50" y1="298.50" x2="430.50" y2="303.00" stroke="#1a1a1a" stroke-width="1.3"/>
<line x1="428.90" y1="298.50" x2="432.10" y2="298.50" stroke="#1a1a1a" stroke-width="1.0"/>
<line x1="428.90" y1="303.00" x2="432.10" y2="303.00" stroke="#1a1a1a" stroke-width="1.0"/>
<line x1="460.40" y1="296.00" x2="460.40" y2="301.00" stroke="#1a1a1a" stroke-width="1.3"/>
<line x1="458.80" y1="296.00" x2="462.00" y2="296.00" stroke="#1a1a1a" stroke-width="1.0"/>
<line x1="458.80" y1="301.00" x2="462.00" y2="301.00" stroke="#1a1a1a" stroke-width="1.0"/>
<line x1="472.50" y1="293.50" x2="472.50" y2="300.00" stroke="#1a1a1a" stroke-width="1.3"/>
<line x1="470.90" y1="293.50" x2="474.10" y2="293.50" stroke="#1a1a1a" stroke-width="1.0"/>
<line x1="470.90" y1="300.00" x2="474.10" y2="300.00" stroke="#1a1a1a" stroke-width="1.0"/>
<path d="M375.5,227 L375.5,217.5 Q375.5,216.5 376.5,216.5 L387.5,216.5 Q388.5,216.5 388.5,217.5 L388.5,278.5" fill="none" stroke="#3a3a3a" stroke-width="0.75"/>
<text x="382.1" y="220.4" font-size="16" text-anchor="middle" fill="#333" letter-spacing="0.5">**</text>
<rect x="498.00" y="257.70" width="5.20" height="5.20" fill="#1c1c1c"/>
<text x="506" y="263.2" font-size="8.2" text-anchor="start" fill="#222">WT</text>
<rect x="498.00" y="272.70" width="5.20" height="5.20" fill="#444444"/>
<text x="506" y="278.2" font-size="8.2" text-anchor="start" fill="#222">KO</text>
<text transform="translate(260,326.4) scale(0.905,1)" font-size="8.5" text-anchor="start" fill="#2e2e2e" stroke="#2e2e2e" stroke-width="0.2">Upper</text>
<text transform="translate(260,336.4) scale(0.905,1)" font-size="8.5" text-anchor="start" fill="#2e2e2e" stroke="#2e2e2e" stroke-width="0.2">Chamber</text>
<line x1="303.50" y1="320.00" x2="303.50" y2="335.50" stroke="#555" stroke-width="1"/>
<text transform="translate(361.0,326.4) scale(0.88,1)" font-size="9.1" text-anchor="end" font-weight="bold" fill="#000" stroke="#000" stroke-width="0.25">MTG</text>
<text transform="translate(361.0,336.4) scale(0.88,1)" font-size="9.1" text-anchor="end" font-weight="bold" fill="#000" stroke="#000" stroke-width="0.25">Pg</text>
<text transform="translate(260,360.6) scale(0.905,1)" font-size="8.5" text-anchor="start" fill="#2e2e2e" stroke="#2e2e2e" stroke-width="0.2">Lower</text>
<text transform="translate(260,370.2) scale(0.905,1)" font-size="8.5" text-anchor="start" fill="#2e2e2e" stroke="#2e2e2e" stroke-width="0.2">Chamber</text>
<line x1="303.50" y1="350.50" x2="303.50" y2="378.50" stroke="#555" stroke-width="1"/>
<text transform="translate(361.0,356.2) scale(0.88,1)" font-size="9.1" text-anchor="end" font-weight="bold" fill="#000" stroke="#000" stroke-width="0.25">MCP-1</text>
<text transform="translate(361.0,366.2) scale(0.88,1)" font-size="9.1" text-anchor="end" font-weight="bold" fill="#000" stroke="#000" stroke-width="0.25">Plasmin</text>
<text transform="translate(361.0,376) scale(0.88,1)" font-size="9.1" text-anchor="end" font-weight="bold" fill="#000" stroke="#000" stroke-width="0.25">Thioglycollate</text>
<path d="M379.40,323.80h5M381.90,321.30v5" stroke="#1a1a1a" stroke-width="1.2" fill="none"/>
<path d="M422.50,323.80h5M425.00,321.30v5" stroke="#1a1a1a" stroke-width="1.2" fill="none"/>
<path d="M465.70,323.80h5M468.20,321.30v5" stroke="#1a1a1a" stroke-width="1.2" fill="none"/>
<path d="M379.40,333.80h5M381.90,331.30v5" stroke="#1a1a1a" stroke-width="1.2" fill="none"/>
<path d="M422.50,333.80h5M425.00,331.30v5" stroke="#1a1a1a" stroke-width="1.2" fill="none"/>
<path d="M465.70,333.80h5M468.20,331.30v5" stroke="#1a1a1a" stroke-width="1.2" fill="none"/>
<path d="M380.60,354.00h2.6" stroke="#2a2a2a" stroke-width="1.1" fill="none"/>
<path d="M423.70,354.00h2.6" stroke="#2a2a2a" stroke-width="1.1" fill="none"/>
<path d="M466.90,354.00h2.6" stroke="#2a2a2a" stroke-width="1.1" fill="none"/>
<path d="M379.40,364.00h5M381.90,361.50v5" stroke="#1a1a1a" stroke-width="1.2" fill="none"/>
<path d="M423.70,364.00h2.6" stroke="#2a2a2a" stroke-width="1.1" fill="none"/>
<path d="M466.90,364.00h2.6" stroke="#2a2a2a" stroke-width="1.1" fill="none"/>
<path d="M380.60,373.60h2.6" stroke="#2a2a2a" stroke-width="1.1" fill="none"/>
<path d="M422.50,373.60h5M425.00,371.10v5" stroke="#1a1a1a" stroke-width="1.2" fill="none"/>
<path d="M466.90,373.60h2.6" stroke="#2a2a2a" stroke-width="1.1" fill="none"/>
<text transform="translate(-0.1,427.5) scale(0.97,1)" font-size="16.7" font-weight="bold" fill="#000" stroke="#000" stroke-width="0.3">E</text>
<line x1="89.25" y1="416.70" x2="89.25" y2="516.30" stroke="#b0b0b0" stroke-width="0.9"/>
<line x1="89.25" y1="516.30" x2="211.00" y2="516.30" stroke="#b0b0b0" stroke-width="0.9"/>
<line x1="87.25" y1="516.30" x2="89.25" y2="516.30" stroke="#b0b0b0" stroke-width="0.9"/>
<text x="80.5" y="519.396" font-size="8.6" text-anchor="end" fill="#2a2a2a" stroke="#2a2a2a" stroke-width="0.2">0</text>
<line x1="87.25" y1="500.67" x2="89.25" y2="500.67" stroke="#b0b0b0" stroke-width="0.9"/>
<text x="80.5" y="503.77099999999996" font-size="8.6" text-anchor="end" fill="#2a2a2a" stroke="#2a2a2a" stroke-width="0.2">50</text>
<line x1="87.25" y1="485.05" x2="89.25" y2="485.05" stroke="#b0b0b0" stroke-width="0.9"/>
<text x="80.5" y="488.14599999999996" font-size="8.6" text-anchor="end" fill="#2a2a2a" stroke="#2a2a2a" stroke-width="0.2">100</text>
<line x1="87.25" y1="469.42" x2="89.25" y2="469.42" stroke="#b0b0b0" stroke-width="0.9"/>
<text x="80.5" y="472.52099999999996" font-size="8.6" text-anchor="end" fill="#2a2a2a" stroke="#2a2a2a" stroke-width="0.2">150</text>
<line x1="87.25" y1="453.80" x2="89.25" y2="453.80" stroke="#b0b0b0" stroke-width="0.9"/>
<text x="80.5" y="456.89599999999996" font-size="8.6" text-anchor="end" fill="#2a2a2a" stroke="#2a2a2a" stroke-width="0.2">200</text>
<line x1="87.25" y1="438.17" x2="89.25" y2="438.17" stroke="#b0b0b0" stroke-width="0.9"/>
<text x="80.5" y="441.27099999999996" font-size="8.6" text-anchor="end" fill="#2a2a2a" stroke="#2a2a2a" stroke-width="0.2">250</text>
<line x1="87.25" y1="422.55" x2="89.25" y2="422.55" stroke="#b0b0b0" stroke-width="0.9"/>
<text x="80.5" y="425.64599999999996" font-size="8.6" text-anchor="end" fill="#2a2a2a" stroke="#2a2a2a" stroke-width="0.2">300</text>
<line x1="119.70" y1="516.30" x2="119.70" y2="518.30" stroke="#b0b0b0" stroke-width="0.9"/>
<line x1="150.10" y1="516.30" x2="150.10" y2="518.30" stroke="#b0b0b0" stroke-width="0.9"/>
<line x1="180.60" y1="516.30" x2="180.60" y2="518.30" stroke="#b0b0b0" stroke-width="0.9"/>
<line x1="211.00" y1="516.30" x2="211.00" y2="518.30" stroke="#b0b0b0" stroke-width="0.9"/>
<text transform="translate(58,467.5) rotate(-90)" font-size="8.25" text-anchor="middle" font-weight="bold" fill="#0a0a0a" stroke="#0a0a0a" stroke-width="0.22">Number of cells per field</text>
<rect x="97.30" y="421.92" width="8.60" height="94.38" fill="#1c1c1c"/>
<rect x="105.90" y="421.30" width="8.70" height="95.00" fill="#444444"/>
<line x1="101.60" y1="419.30" x2="101.60" y2="423.80" stroke="#1a1a1a" stroke-width="1.3"/>
<line x1="100.00" y1="419.30" x2="103.20" y2="419.30" stroke="#1a1a1a" stroke-width="1.0"/>
<line x1="100.00" y1="423.80" x2="103.20" y2="423.80" stroke="#1a1a1a" stroke-width="1.0"/>
<line x1="110.20" y1="418.30" x2="110.20" y2="423.30" stroke="#1a1a1a" stroke-width="1.3"/>
<line x1="108.60" y1="418.30" x2="111.80" y2="418.30" stroke="#1a1a1a" stroke-width="1.0"/>
<line x1="108.60" y1="423.30" x2="111.80" y2="423.30" stroke="#1a1a1a" stroke-width="1.0"/>
<rect x="127.30" y="421.61" width="8.60" height="94.69" fill="#1c1c1c"/>
<rect x="135.90" y="422.24" width="8.70" height="94.06" fill="#444444"/>
<line x1="131.60" y1="419.30" x2="131.60" y2="423.80" stroke="#1a1a1a" stroke-width="1.3"/>
<line x1="130.00" y1="419.30" x2="133.20" y2="419.30" stroke="#1a1a1a" stroke-width="1.0"/>
<line x1="130.00" y1="423.80" x2="133.20" y2="423.80" stroke="#1a1a1a" stroke-width="1.0"/>
<line x1="140.20" y1="418.30" x2="140.20" y2="423.30" stroke="#1a1a1a" stroke-width="1.3"/>
<line x1="138.60" y1="418.30" x2="141.80" y2="418.30" stroke="#1a1a1a" stroke-width="1.0"/>
<line x1="138.60" y1="423.30" x2="141.80" y2="423.30" stroke="#1a1a1a" stroke-width="1.0"/>
<rect x="157.60" y="422.24" width="8.60" height="94.06" fill="#1c1c1c"/>
<rect x="166.20" y="421.61" width="8.70" height="94.69" fill="#444444"/>
<line x1="161.90" y1="419.30" x2="161.90" y2="423.80" stroke="#1a1a1a" stroke-width="1.3"/>
<line x1="160.30" y1="419.30" x2="163.50" y2="419.30" stroke="#1a1a1a" stroke-width="1.0"/>
<line x1="160.30" y1="423.80" x2="163.50" y2="423.80" stroke="#1a1a1a" stroke-width="1.0"/>
<line x1="170.50" y1="418.30" x2="170.50" y2="423.30" stroke="#1a1a1a" stroke-width="1.3"/>
<line x1="168.90" y1="418.30" x2="172.10" y2="418.30" stroke="#1a1a1a" stroke-width="1.0"/>
<line x1="168.90" y1="423.30" x2="172.10" y2="423.30" stroke="#1a1a1a" stroke-width="1.0"/>
<rect x="187.90" y="422.24" width="8.60" height="94.06" fill="#1c1c1c"/>
<rect x="196.50" y="421.30" width="8.70" height="95.00" fill="#444444"/>
<line x1="192.20" y1="419.30" x2="192.20" y2="423.80" stroke="#1a1a1a" stroke-width="1.3"/>
<line x1="190.60" y1="419.30" x2="193.80" y2="419.30" stroke="#1a1a1a" stroke-width="1.0"/>
<line x1="190.60" y1="423.80" x2="193.80" y2="423.80" stroke="#1a1a1a" stroke-width="1.0"/>
<line x1="200.80" y1="418.30" x2="200.80" y2="423.30" stroke="#1a1a1a" stroke-width="1.3"/>
<line x1="199.20" y1="418.30" x2="202.40" y2="418.30" stroke="#1a1a1a" stroke-width="1.0"/>
<line x1="199.20" y1="423.30" x2="202.40" y2="423.30" stroke="#1a1a1a" stroke-width="1.0"/>
<rect x="222.50" y="461.40" width="5.20" height="5.20" fill="#1c1c1c"/>
<text x="230.5" y="466.9" font-size="8.2" text-anchor="start" fill="#222">WT</text>
<rect x="222.50" y="476.40" width="5.20" height="5.20" fill="#444444"/>
<text x="230.5" y="481.9" font-size="8.2" text-anchor="start" fill="#222">KO</text>
<text transform="translate(89.8,535.1) scale(0.88,1)" font-size="9.1" text-anchor="end" font-weight="bold" fill="#000" stroke="#000" stroke-width="0.25">MTG</text>
<path d="M104.95,532.50h2.6" stroke="#2a2a2a" stroke-width="1.1" fill="none"/>
<path d="M135.45,532.50h2.6" stroke="#2a2a2a" stroke-width="1.1" fill="none"/>
<path d="M165.45,532.50h2.6" stroke="#2a2a2a" stroke-width="1.1" fill="none"/>
<path d="M195.45,532.50h2.6" stroke="#2a2a2a" stroke-width="1.1" fill="none"/>
<text transform="translate(89.8,544.8000000000001) scale(0.88,1)" font-size="9.1" text-anchor="end" font-weight="bold" fill="#000" stroke="#000" stroke-width="0.25">Pg</text>
<path d="M103.75,542.20h5M106.25,539.70v5" stroke="#1a1a1a" stroke-width="1.2" fill="none"/>
<path d="M134.25,542.20h5M136.75,539.70v5" stroke="#1a1a1a" stroke-width="1.2" fill="none"/>
<path d="M164.25,542.20h5M166.75,539.70v5" stroke="#1a1a1a" stroke-width="1.2" fill="none"/>
<path d="M194.25,542.20h5M196.75,539.70v5" stroke="#1a1a1a" stroke-width="1.2" fill="none"/>
<text transform="translate(89.8,555.0) scale(0.88,1)" font-size="9.1" text-anchor="end" font-weight="bold" fill="#000" stroke="#000" stroke-width="0.25">S100A10</text>
<path d="M104.95,552.40h2.6" stroke="#2a2a2a" stroke-width="1.1" fill="none"/>
<path d="M134.25,552.40h5M136.75,549.90v5" stroke="#1a1a1a" stroke-width="1.2" fill="none"/>
<path d="M165.45,552.40h2.6" stroke="#2a2a2a" stroke-width="1.1" fill="none"/>
<path d="M194.25,552.40h5M196.75,549.90v5" stroke="#1a1a1a" stroke-width="1.2" fill="none"/>
<text transform="translate(89.8,564.8000000000001) scale(0.88,1)" font-size="9.1" text-anchor="end" font-weight="bold" fill="#000" stroke="#000" stroke-width="0.25">Annexin A2</text>
<path d="M104.95,562.20h2.6" stroke="#2a2a2a" stroke-width="1.1" fill="none"/>
<path d="M135.45,562.20h2.6" stroke="#2a2a2a" stroke-width="1.1" fill="none"/>
<path d="M164.25,562.20h5M166.75,559.70v5" stroke="#1a1a1a" stroke-width="1.2" fill="none"/>
<path d="M194.25,562.20h5M196.75,559.70v5" stroke="#1a1a1a" stroke-width="1.2" fill="none"/>
<line x1="40.50" y1="527.50" x2="40.50" y2="566.00" stroke="#6a6a6a" stroke-width="1"/>
<text transform="translate(1.25,546.4) scale(0.905,1)" font-size="8.5" text-anchor="start" fill="#2e2e2e" stroke="#2e2e2e" stroke-width="0.2">Upper</text>
<text transform="translate(1.25,556.7) scale(0.905,1)" font-size="8.5" text-anchor="start" fill="#2e2e2e" stroke="#2e2e2e" stroke-width="0.2">Chamber</text>
<text transform="translate(1.25,579.6) scale(0.905,1)" font-size="8.5" text-anchor="start" fill="#2e2e2e" stroke="#2e2e2e" stroke-width="0.2">Lower</text>
<text transform="translate(1.25,589.6) scale(0.905,1)" font-size="8.5" text-anchor="start" fill="#2e2e2e" stroke="#2e2e2e" stroke-width="0.2">Chamber</text>
<line x1="40.50" y1="576.00" x2="40.50" y2="586.50" stroke="#777" stroke-width="1"/>
<text transform="translate(89.8,584.6) scale(0.88,1)" font-size="9.1" text-anchor="end" font-weight="bold" fill="#000" stroke="#000" stroke-width="0.25">MCP-1</text>
<path d="M103.75,582.30h5M106.25,579.80v5" stroke="#1a1a1a" stroke-width="1.2" fill="none"/>
<path d="M134.25,582.30h5M136.75,579.80v5" stroke="#1a1a1a" stroke-width="1.2" fill="none"/>
<path d="M164.25,582.30h5M166.75,579.80v5" stroke="#1a1a1a" stroke-width="1.2" fill="none"/>
<path d="M194.25,582.30h5M196.75,579.80v5" stroke="#1a1a1a" stroke-width="1.2" fill="none"/>
</svg>
</body></html>
